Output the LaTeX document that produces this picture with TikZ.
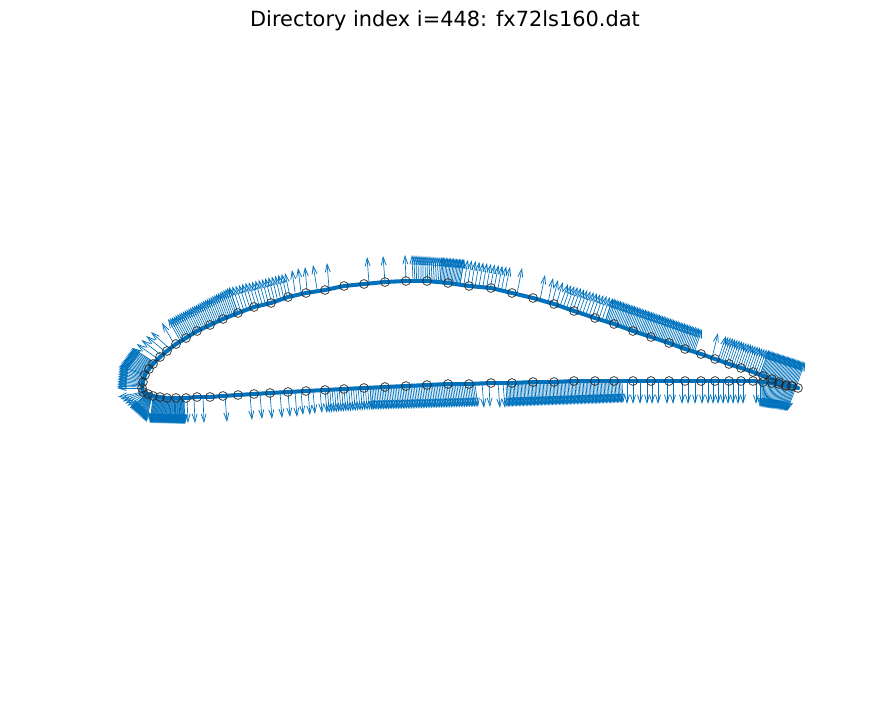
\documentclass[tikz,border=0pt]{standalone}
\usepackage{fontspec}
\setmainfont{DejaVu Sans}
\usetikzlibrary{arrows.meta}
\definecolor{foilblue}{HTML}{0072BD}
\tikzset{
	normalarrow/.style={foilblue, line width=0.65pt, -{Straight Barb[length=8pt,width=5pt,line width=0.75pt]}},
	foilline/.style={foilblue, line width=4pt, line cap=round},
	foilpoint/.style={black!85, line width=0.7pt}
}
% circles round the profile, leading edge - upper side - trailing edge - lower side
\def\foilstart{(142,388)}
\def\foilpoints{(143,382),(145,375),(149,369),(153,364),(160,357),(167,351),(176,344),(186,338),(197,331),(210,325),(223,319),(238,313),(254,307),(271,303),(288,297),(306,293),(325,290),(344,286),(364,284),(385,282),(406,281),(427,281),(448,283),(469,286),(491,288),(512,293),(533,298),(554,304),(574,311),(595,318),(614,324),(633,331),(651,337),(669,343),(685,349),(701,354),(715,359),(729,364),(741,368),(753,372),(763,376),(772,379),(779,382),(786,385),(792,386),(798,388),(792,386),(786,386),(779,384),(772,383),(763,382),(753,381),(741,381),(729,381),(715,381),(701,381),(685,381),(669,381),(651,381),(633,381),(614,381),(595,381),(574,381),(554,382),(533,382),(512,383),(491,383),(469,384),(448,384),(427,385),(406,386),(385,387),(364,388),(344,389),(325,390),(306,391),(288,392),(270,393),(254,394),(238,395),(223,396),(210,397),(197,397),(186,398),(176,398),(167,398),(160,397),(153,396),(148,394),(143,392)}
\begin{document}
\begin{tikzpicture}[x=1pt,y=-1pt]
	\useasboundingbox (0,0) rectangle (891,703);
	\node (title) at (445,21) {\fontsize{20.9}{25}\selectfont Directory index i=448: fx72ls160.dat};
	
	%%%%% runs of normals: base, tip - base, tip - count
	\foreach \xa/\ya/\ua/\va/\xb/\yb/\ub/\vb/\n in {
		142/388/117/388/145/375/119/366/14,
		145/375/119/366/155/363/132/348/16,
		155/363/132/348/170/349/151/332/5,
		181/342/168/319/238/313/229/287/34,
		238/313/229/287/290/297/285/273/18,
		413/281/412/255/440/282/442/257/16,
		440/282/442/257/460/285/464/259/16,
		460/285/464/259/505/292/510/267/13,
		560/306/568/284/605/322/613/298/15,
		605/322/613/298/694/353/702/329/58,
		718/360/726/336/760/375/769/350/20,
		760/375/769/350/796/387/805/362/30,
		143/392/118/397/147/394/130/408/6,
		147/394/130/408/152/396/146/422/18,
		153/397/150/423/184/398/185/424/60,
		325/390/327/413/370/388/372/410/20,
		370/388/372/410/475/384/478/407/65,
		506/383/507/407/622/381/623/403/85,
		760/382/760/407/796/387/787/411/30}
	{
		\foreach \k in {1,...,\n} {
			\pgfmathsetmacro{\t}{(\k-1)/(\n-1)}
			\draw[normalarrow] ({\xa+\t*(\xb-\xa)},{\ya+\t*(\yb-\ya)}) -- ({\ua+\t*(\ub-\ua)},{\va+\t*(\vb-\va)});
		}
	}
	
	%%%%% single normals
	\foreach \xa/\ya/\ua/\va in {
		173/342/162/323,295/292/292/270,301/292/298/268,307/291/305/267,317/289/313/265,329/288/327/263,
		369/283/367/257,385/282/383/256,406/281/405/255,517/294/522/268,
		540/300/545/275,548/303/553/278,552/304/558/280,556/305/563/282,712/358/718/333,
		187/398/188/423,194/398/195/423,203/397/204/423,225/396/227/422,
		250/394/252/420,260/394/262/419,270/393/272/419,280/392/282/418,288/392/290/417,295/391/297/417,
		301/391/303/415,308/391/310/415,313/391/315/414,320/390/322/413,
		482/383/484/408,489/383/490/407,498/383/500/408,503/383/505/408,
		627/381/627/404,633/381/633/404,640/381/640/404,
		647/381/647/404,652/381/652/404,658/381/658/404,667/381/667/404,673/381/673/404,682/381/682/404,
		688/381/688/404,695/381/695/404,702/381/702/404,708/381/708/404,713/381/713/404,718/381/718/404,
		723/381/723/404,728/381/728/404,733/381/733/404,738/381/738/404,743/381/743/404,756/381/756/404}
	{
		\draw[normalarrow] (\xa,\ya) -- (\ua,\va);
	}
	
	%%%%% profile
	\foreach \p [remember=\p as \lastp (initially \foilstart)] in \foilpoints {
		\draw[foilline] \lastp -- \p;
	}
	\draw[foilline] (143,392) -- \foilstart;
	\draw[foilpoint] \foilstart circle (4.4);
	\foreach \p in \foilpoints {
		\draw[foilpoint] \p circle (4.4);
	}
\end{tikzpicture}
\end{document}
